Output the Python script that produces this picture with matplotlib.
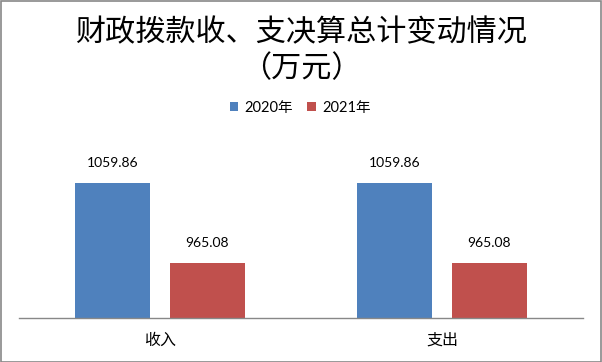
import matplotlib
matplotlib.use("Agg")
import matplotlib.pyplot as plt
from matplotlib.patches import Rectangle
import numpy as np

plt.rcParams['font.family'] = ['Noto Sans CJK SC', 'DejaVu Sans']

categories = ["收入", "支出"]
series_names = ["2020年", "2021年"]
values_2020 = [1059.86, 1059.86]
values_2021 = [965.08, 965.08]

colors = ["#4F81BD", "#C0504D"]

fig = plt.figure(figsize=(6.02, 3.62), dpi=100)
W, H = 602, 362
ax = fig.add_axes([19 / W, 44 / H, 564 / W, (318 - 149) / H])

x = np.arange(len(categories))
bw = 0.266
off = 0.167
b1 = ax.bar(x - off, values_2020, bw, color=colors[0], label=series_names[0], zorder=2)
b2 = ax.bar(x + off, values_2021, bw, color=colors[1], label=series_names[1], zorder=2)

for bars, vals in ((b1, values_2020), (b2, values_2021)):
    for r, v in zip(bars, vals):
        ax.annotate(f"{v:.2f}", (r.get_x() + r.get_width() / 2, v),
                    xytext=(0, 14.5), textcoords="offset points", ha="center", va="center",
                    fontsize=10, family=['Lato', 'DejaVu Sans'], color="#000000")

ax.set_xlim(-0.5, 1.5)
ax.set_ylim(900, 1100)
ax.set_yticks([])
ax.set_xticks(x)
ax.set_xticklabels(categories, fontsize=11.5)
ax.tick_params(axis='x', length=0, pad=10)
for s in ("top", "right", "left"):
    ax.spines[s].set_visible(False)
ax.spines["bottom"].set_color("#888888")
ax.spines["bottom"].set_linewidth(1.0)
ax.set_facecolor("none")

fig.text(0.5, 1 - 33 / H, "财政拨款收、支决算总计变动情况", ha="center", va="center",
         fontsize=21.7, fontweight="medium", color="#000000")
fig.text(0.5, 1 - 69 / H, "（万元）", ha="center", va="center",
         fontsize=21.7, fontweight="medium", color="#000000")

leg = fig.legend(handles=[b1, b2], labels=series_names, loc="center",
                 bbox_to_anchor=(300 / W, 1 - 108 / H), ncol=2, frameon=False,
                 fontsize=10.5, handlelength=0.6, handleheight=0.6,
                 handletextpad=0.4, columnspacing=1.0)
for t in leg.get_texts():
    t.set_family(['Lato', 'Noto Sans CJK SC'])

fig.patches.append(Rectangle((0.5 / W, 0.5 / H), 1 - 1.5 / W, 1 - 1.5 / H,
                             transform=fig.transFigure, fill=False,
                             edgecolor="#888888", linewidth=1.2))

fig.savefig("out.png", dpi=100)
